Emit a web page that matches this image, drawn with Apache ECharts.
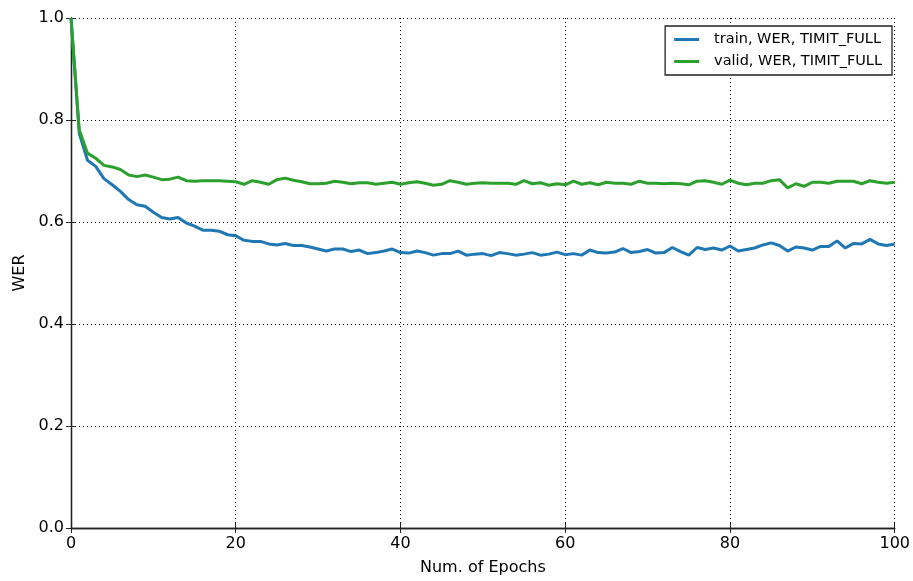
<!DOCTYPE html>
<html>
<head>
<meta charset="utf-8">
<script src="https://cdn.jsdelivr.net/npm/echarts@6/dist/echarts.min.js"></script>
<style>
  html, body { margin: 0; padding: 0; background: #fff; }
  #chart { width: 913px; height: 581px; }
</style>
</head>
<body>
<div id="chart"></div>
<script>
const trainWER = [
  1.0, 0.774, 0.721, 0.709, 0.685, 0.673, 0.660, 0.644, 0.634, 0.631,
  0.619, 0.609, 0.606, 0.609, 0.598, 0.592, 0.584, 0.584, 0.582, 0.575,
  0.573, 0.564, 0.562, 0.562, 0.557, 0.555, 0.558, 0.554, 0.554, 0.551,
  0.547, 0.543, 0.547, 0.547, 0.542, 0.545, 0.538, 0.540, 0.543, 0.547,
  0.540, 0.539, 0.543, 0.540, 0.535, 0.538, 0.538, 0.543, 0.535, 0.537,
  0.538, 0.534, 0.540, 0.538, 0.535, 0.537, 0.540, 0.535, 0.537, 0.541,
  0.536, 0.538, 0.535, 0.545, 0.540, 0.539, 0.541, 0.548, 0.540, 0.542,
  0.546, 0.539, 0.540, 0.550, 0.542, 0.535, 0.550, 0.546, 0.549, 0.545,
  0.553, 0.543, 0.546, 0.549, 0.555, 0.559, 0.554, 0.543, 0.551, 0.549,
  0.545, 0.552, 0.552, 0.563, 0.549, 0.558, 0.557, 0.566, 0.557, 0.554,
  0.557
]
const validWER = [
  1.0, 0.781, 0.735, 0.725, 0.711, 0.708, 0.703, 0.692, 0.689, 0.692,
  0.688, 0.683, 0.684, 0.688, 0.681, 0.680, 0.681, 0.681, 0.681, 0.680,
  0.679, 0.674, 0.681, 0.678, 0.674, 0.683, 0.686, 0.682, 0.679, 0.675,
  0.675, 0.676, 0.680, 0.678, 0.675, 0.677, 0.677, 0.674, 0.676, 0.678,
  0.674, 0.677, 0.679, 0.676, 0.672, 0.674, 0.681, 0.678, 0.674, 0.676,
  0.677, 0.676, 0.676, 0.676, 0.674, 0.681, 0.675, 0.677, 0.672, 0.675,
  0.673, 0.680, 0.674, 0.677, 0.673, 0.678, 0.676, 0.676, 0.674, 0.680,
  0.676, 0.676, 0.675, 0.676, 0.675, 0.673, 0.680, 0.681, 0.678, 0.674,
  0.682, 0.676, 0.673, 0.676, 0.676, 0.681, 0.683, 0.667, 0.675, 0.670,
  0.678, 0.678, 0.676, 0.680, 0.680, 0.680, 0.675, 0.681, 0.678, 0.676,
  0.678
]
const seriesNames = ['train, WER, TIMIT_FULL', 'valid, WER, TIMIT_FULL']
const seriesColors = ['#1f77b4', '#2ca02c']

const FONT = 'DejaVu Sans'
const toPairs = arr => arr.map((v, i) => [i, v])

const chart = echarts.init(document.getElementById('chart'), null, { renderer: 'canvas' })

const frameLine = { show: true, lineStyle: { color: '#222', width: 1.3 } }
const frameTick = { show: true, inside: true, length: 5, lineStyle: { color: '#222' } }

chart.setOption({
  animation: false,
  backgroundColor: '#fff',
  grid: { left: 71, right: 17, top: 18, bottom: 52 },
  legend: {
    right: 21,
    top: 26,
    orient: 'vertical',
    data: seriesNames,
    icon: 'rect',
    itemWidth: 25,
    itemHeight: 3,
    itemGap: 7,
    padding: [6, 10, 6, 9],
    borderColor: '#222',
    borderWidth: 1.3,
    backgroundColor: '#fff',
    textStyle: { fontFamily: FONT, fontSize: 14.5, color: '#000', padding: [0, 0, 0, 10] }
  },
  xAxis: [
    {
      type: 'value',
      min: 0,
      max: 100,
      interval: 20,
      name: 'Num. of Epochs',
      nameLocation: 'middle',
      nameGap: 32,
      nameTextStyle: { fontFamily: FONT, fontSize: 16, color: '#000' },
      axisLine: frameLine,
      axisTick: frameTick,
      axisLabel: { color: '#000', fontFamily: FONT, fontSize: 16, margin: 8 },
      splitLine: { show: true, lineStyle: { color: '#000', type: [1, 3], width: 1 } }
    },
    {
      type: 'value',
      position: 'top',
      min: 0,
      max: 100,
      interval: 20,
      axisLine: frameLine,
      axisTick: frameTick,
      axisLabel: { show: false },
      splitLine: { show: false }
    }
  ],
  yAxis: [
    {
      type: 'value',
      min: 0,
      max: 1,
      interval: 0.2,
      name: 'WER',
      nameLocation: 'middle',
      nameGap: 42,
      nameTextStyle: { fontFamily: FONT, fontSize: 16, color: '#000' },
      axisLine: frameLine,
      axisTick: frameTick,
      axisLabel: { color: '#000', fontFamily: FONT, fontSize: 16, margin: 7, formatter: v => v.toFixed(1) },
      splitLine: { show: true, lineStyle: { color: '#000', type: [1, 3], width: 1 } }
    },
    {
      type: 'value',
      position: 'right',
      min: 0,
      max: 1,
      interval: 0.2,
      axisLine: frameLine,
      axisTick: frameTick,
      axisLabel: { show: false },
      splitLine: { show: false }
    }
  ],
  series: [
    {
      name: seriesNames[0],
      type: 'line',
      data: toPairs(trainWER),
      showSymbol: false,
      symbol: 'none',
      lineStyle: { color: seriesColors[0], width: 3 },
      itemStyle: { color: seriesColors[0] }
    },
    {
      name: seriesNames[1],
      type: 'line',
      data: toPairs(validWER),
      showSymbol: false,
      symbol: 'none',
      lineStyle: { color: seriesColors[1], width: 3 },
      itemStyle: { color: seriesColors[1] }
    }
  ]
})
</script>
</body>
</html>
